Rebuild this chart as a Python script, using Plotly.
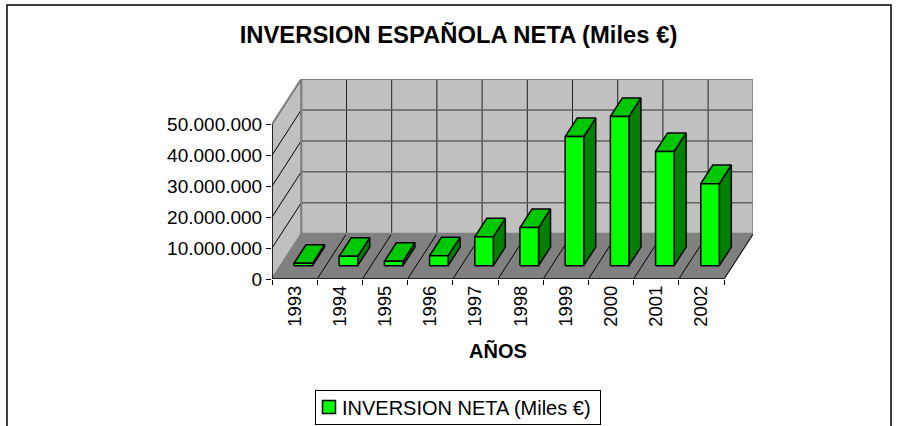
import plotly.graph_objects as go

YEARS = ["1993", "1994", "1995", "1996", "1997", "1998", "1999", "2000", "2001", "2002"]
INVERSION = [750000, 3000000, 1400000, 3200000, 9300000, 12300000, 41700000, 48200000, 36900000, 26500000]
Y_TICKS = [0, 10000000, 20000000, 30000000, 40000000, 50000000]
SERIES = "INVERSION NETA (Miles €)"
TITLE = "INVERSION ESPAÑOLA NETA (Miles €)"
XTITLE = "AÑOS"

W, H = 899, 426
L, B, PW, PH = 272, 147, 481, 200
N = len(YEARS)
CAT_PX = 45.2
VAL_PX = 154.7 / 50000000
DX = 29.3 / CAT_PX
DY = 45.3 / VAL_PX
YMAX = 50000000
FONT = "Liberation Sans, Arial, sans-serif"


def proj(c, v, d):
    return c + d * DX, v + d * DY


def poly(points):
    xs, ys = zip(*[proj(*p) for p in points + points[:1]])
    return list(xs), list(ys)


def area(points, fill, line="#808080", width=1.5):
    xs, ys = poly(points)
    return go.Scatter(x=xs, y=ys, mode="lines", fill="toself", fillcolor=fill,
                      line=dict(color=line, width=width), hoverinfo="skip", showlegend=False)


def lines(segments, color, width):
    xs, ys = [], []
    for a, b in segments:
        p, q = proj(*a), proj(*b)
        xs += [p[0], q[0], None]
        ys += [p[1], q[1], None]
    return go.Scatter(x=xs, y=ys, mode="lines", line=dict(color=color, width=width),
                      hoverinfo="skip", showlegend=False)


fig = go.Figure()
fig.add_trace(area([(0, 0, 1), (N, 0, 1), (N, YMAX, 1), (0, YMAX, 1)], "#C0C0C0"))
fig.add_trace(area([(0, 0, 0), (0, 0, 1), (0, YMAX, 1), (0, YMAX, 0)], "#C0C0C0"))
fig.add_trace(area([(0, 0, 0), (N, 0, 0), (N, 0, 1), (0, 0, 1)], "#808080"))

fig.add_trace(lines([((i, 0, 1), (i, YMAX, 1)) for i in range(1, N)], "#202020", 1))
fig.add_trace(lines([((0, v, 1), (N, v, 1)) for v in Y_TICKS[1:-1]], "#606060", 1.5))
fig.add_trace(lines([((0, v, 0), (0, v, 1)) for v in Y_TICKS[1:-1]], "#000000", 1))
fig.add_trace(lines([((i, 0, 0), (i, 0, 1)) for i in range(1, N)], "#000000", 1))
fig.add_trace(lines([((0, YMAX, 0), (0, YMAX, 1)), ((0, YMAX, 1), (N, YMAX, 1)), ((N, YMAX, 1), (N, 0, 1)),
                     ((0, 0, 1), (0, YMAX, 1)), ((0, 0, 1), (N, 0, 1))], "#808080", 2))
fig.add_trace(lines([((N, 0, 0), (N, 0, 1))], "#000000", 1))

C0, C1, D0, D1 = 0.295, 0.705, 0.295, 0.705
for i, v in enumerate(INVERSION):
    c0, c1 = i + C0, i + C1
    fig.add_trace(area([(c1, 0, D0), (c1, 0, D1), (c1, v, D1), (c1, v, D0)], "#008000", "#000000"))
    fig.add_trace(area([(c0, v, D0), (c1, v, D0), (c1, v, D1), (c0, v, D1)], "#00C800", "#000000"))
    fig.add_trace(area([(c0, 0, D0), (c1, 0, D0), (c1, v, D0), (c0, v, D0)], "#00FF00", "#000000"))

fig.add_trace(lines([((0, 0, 0), (0, YMAX, 0))], "#000000", 1.5))
fig.add_trace(lines([((0, 0, 0), (N, 0, 0))], "#202020", 2))

fig.add_trace(go.Scatter(x=[None], y=[None], mode="markers", name=SERIES,
                         marker=dict(symbol="square", size=13, color="#00FF00",
                                     line=dict(color="#000000", width=1.5))))
fig.add_trace(go.Scatter(x=list(range(N + 1)), y=[0] * (N + 1), xaxis="x2", mode="lines",
                         line=dict(width=0), hoverinfo="skip", showlegend=False))

x_range = [0, PW / CAT_PX]
TOP = H - B - PH
fig.update_layout(
    width=W, height=H, autosize=False,
    margin=dict(l=L, r=W - L - PW, t=TOP, b=B, pad=0, autoexpand=False),
    paper_bgcolor="#FFFFFF", plot_bgcolor="rgba(0,0,0,0)",
    separators=",.",
    font=dict(family=FONT, color="#000000", size=18),
    title=dict(text=TITLE, x=458.5 / W, xref="container", xanchor="center", y=1 - 35 / H, yref="container",
               yanchor="middle", font=dict(family=FONT, size=23.8, color="#000000", weight="bold")),
    xaxis=dict(range=x_range, tickmode="array", tickvals=[i + 0.5 for i in range(N)], ticktext=YEARS,
               tickangle=-90, ticks="", showgrid=False, zeroline=False, showline=False, automargin=False,
               tickfont=dict(family=FONT, size=18.5, color="#000000"), ticklabelstandoff=2),
    xaxis2=dict(range=x_range, overlaying="x", anchor="y", side="bottom", tickmode="array",
                tickvals=list(range(N + 1)), showticklabels=False, ticks="outside", ticklen=5,
                tickwidth=1, tickcolor="#000000", showgrid=False, zeroline=False, showline=False),
    yaxis=dict(range=[0, PH / VAL_PX], tickmode="array", tickvals=Y_TICKS, tickformat=",d", automargin=False,
               ticks="outside", ticklen=5, tickwidth=1, tickcolor="#000000", showgrid=False,
               zeroline=False, showline=False, tickfont=dict(family=FONT, size=19, color="#000000")),
    legend=dict(x=315 / W, y=1 - 390 / H, xref="container", yref="container", xanchor="left", yanchor="top",
                bordercolor="#000000", borderwidth=1, bgcolor="#FFFFFF",
                font=dict(family=FONT, size=20, color="#000000"),
                itemclick=False, itemdoubleclick=False),
    annotations=[dict(text="<b>" + XTITLE + "</b>", x=(498 - L) / PW, y=1 - (351 - TOP) / PH,
                      xref="paper", yref="paper", xanchor="center", yanchor="middle", showarrow=False,
                      font=dict(family=FONT, size=20, color="#000000"))],
    shapes=[dict(type="rect", xref="paper", yref="paper",
                 x0=(7 - L) / PW, x1=(891 - L) / PW,
                 y0=1 - (440 - TOP) / PH, y1=1 - (5 - TOP) / PH,
                 line=dict(color="#000000", width=1.5), layer="below")],
)
POST = """
document.body.style.margin='0';document.body.style.overflow='hidden';
var gd=document.getElementById('{plot_id}');
function fixLegend(){
  document.querySelectorAll('.legendtext').forEach(function(t){t.setAttribute('x',27);});
  document.querySelectorAll('.legendpoints path').forEach(function(p){p.setAttribute('transform','translate(14,0)');});
  document.querySelectorAll('.legend rect.bg').forEach(function(r){r.setAttribute('width',285);r.setAttribute('height',34);});
  document.querySelectorAll('.legend .traces').forEach(function(g){g.setAttribute('transform','translate(0,17)');});
}
fixLegend();
if(gd&&gd.on){gd.on('plotly_afterplot',fixLegend);}
setTimeout(fixLegend,0);
"""
fig.write_html("out.html", config=dict(displayModeBar=False), post_script=POST)
